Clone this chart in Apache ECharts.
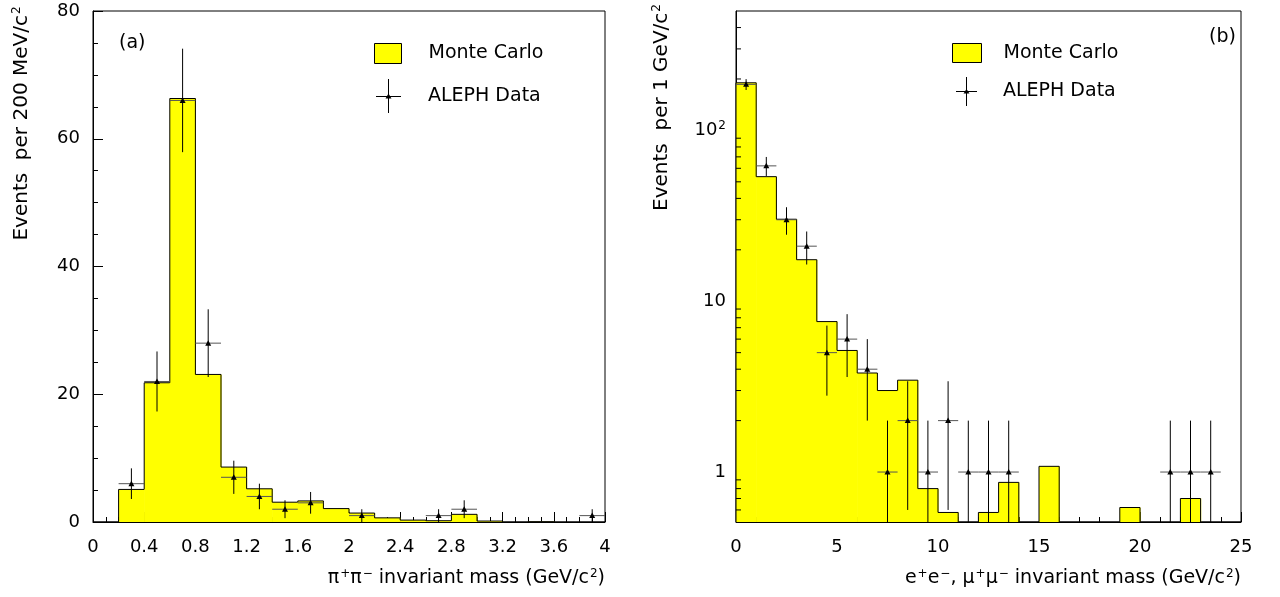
<!DOCTYPE html>
<html>
<head>
<meta charset="utf-8">
<script src="https://cdn.jsdelivr.net/npm/echarts@6/dist/echarts.min.js"></script>
<style>
html, body { margin: 0; background: #fff; }
#main { width: 1280px; height: 597px; }
</style>
</head>
<body>
<div id="main"></div>
<script>
// (a) pi+pi- invariant mass, 200 MeV bins from 0 to 4 GeV
var binA = 0.2;
var mcA = [0, 5.1, 21.8, 66.3, 23.1, 8.6, 5.2, 3.1, 3.3, 2.1, 1.4, 0.65, 0.3, 0.2, 1.2, 0.15, 0, 0.05, 0, 0];
var dataAx = [0.3, 0.5, 0.7, 0.9, 1.1, 1.3, 1.5, 1.7, 2.1, 2.7, 2.9, 3.9];
var dataAy = [6, 22, 66, 28, 7, 4, 2, 3, 1, 1, 2, 1];
var errA = [2.4, 4.7, 8.1, 5.3, 2.6, 2.0, 1.4, 1.7, 1, 1, 1.4, 1];

// (b) e+e-, mu+mu- invariant mass, 1 GeV bins from 0 to 25 GeV
var binB = 1;
var mcB = [190, 53.6, 30.2, 17.5, 7.6, 5.15, 3.8, 3.0, 3.45, 0.8, 0.58, 0, 0.58, 0.87, 0, 1.08, 0, 0, 0, 0.62, 0, 0, 0.7, 0, 0];
var dataBx = [0.5, 1.5, 2.5, 3.5, 4.5, 5.5, 6.5, 7.5, 8.5, 9.5, 10.5, 11.5, 12.5, 13.5, 21.5, 22.5, 23.5];
var dataBy = [186, 62, 30, 21, 5, 6, 4, 1, 2, 1, 2, 1, 1, 1, 1, 1, 1];
var errB = [13.6, 7.9, 5.5, 4.6, 2.2, 2.4, 2, 1, 1.4, 1, 1.4, 1, 1, 1, 1, 1, 1];
var logMinor = [0.6, 0.7, 0.8, 0.9, 2, 3, 4, 5, 6, 7, 8, 9, 20, 30, 40, 50, 60, 70, 80, 90, 200, 300, 400];
var logMin = 0.51, logMax = 500;

var FONT = 'DejaVu Sans';
// superscript token: small and lifted off the baseline
var sup = { s: { fontSize: 12, fontFamily: FONT, verticalAlign: 'bottom', padding: [0, 0, 9, 1] } };

function histData(mc, w) {
    var out = [];
    for (var i = 0; i < mc.length; i++) {
        out.push([i * w, (i + 1) * w, mc[i], i > 0 ? mc[i - 1] : 0]);
    }
    return out;
}

function histItem(lo, last) {
    return function (params, api) {
        var x0 = api.value(0), x1 = api.value(1);
        var y = Math.max(api.value(2), lo), yp = Math.max(api.value(3), lo);
        var a = api.coord([x0, y]), b = api.coord([x1, y]);
        var base = api.coord([x0, lo])[1];
        var prev = api.coord([x0, yp])[1];
        var kids = [];
        if (api.value(2) > lo) {
            // a little wider than the bin so neighbours don't leave a seam
            kids.push({ type: 'rect', shape: { x: a[0], y: a[1], width: b[0] - a[0] + 0.6, height: base - a[1] },
                style: { fill: '#ffff00' } });
        }
        var pts = [[a[0], prev], a, b];
        if (params.dataIndex === last) pts.push([b[0], base]);
        kids.push({ type: 'polyline', shape: { points: pts }, style: { stroke: '#000', fill: null, lineWidth: 1 } });
        return { type: 'group', children: kids };
    };
}

function pointData(xs, ys, es) {
    var out = [];
    for (var i = 0; i < xs.length; i++) out.push([xs[i], ys[i], es[i]]);
    return out;
}

function errItem(half, lo, hi) {
    return function (params, api) {
        var x = api.value(0), y = api.value(1), e = api.value(2);
        var c = api.coord([x, y]);
        var l = api.coord([x - half, y]), r = api.coord([x + half, y]);
        var t = api.coord([x, Math.min(y + e, hi)]), bt = api.coord([x, Math.max(y - e, lo)]);
        return { type: 'group', children: [
            { type: 'line', shape: { x1: l[0], y1: c[1], x2: r[0], y2: c[1] }, style: { stroke: '#555', lineWidth: 1 } },
            { type: 'line', shape: { x1: c[0], y1: t[1], x2: c[0], y2: bt[1] }, style: { stroke: '#000', lineWidth: 1 } },
            { type: 'polygon', shape: { points: [[c[0] - 3, c[1] + 2.5], [c[0] + 3, c[1] + 2.5], [c[0], c[1] - 3]] },
                style: { fill: '#000' } }
        ] };
    };
}

function baseAxis(extra) {
    var ax = {
        type: 'value',
        axisLine: { lineStyle: { color: '#000', width: 1 } },
        axisTick: { inside: true, length: 10, lineStyle: { color: '#000' } },
        minorTick: { show: true, length: 5, lineStyle: { color: '#000' } },
        splitLine: { show: false },
        axisLabel: { color: '#000', fontSize: 18, fontFamily: FONT }
    };
    for (var k in extra) ax[k] = extra[k];
    return ax;
}

// cross with a small triangle, all sub-paths wound the same way
var iconA = 'path://M0,17H25V18H0Z M12,0H13V34H12Z M9.5,19.5L12.5,14.5L15.5,19.5Z';
var iconB = 'path://M0,14H21V15H0Z M10,0H11V29H10Z M7.5,16.5L10.5,12L13.5,16.5Z';
var legendText = { fontSize: 19, fontFamily: FONT, color: '#000' };
var mcIcon = { name: 'Monte Carlo', icon: 'rect', itemStyle: { color: '#ffff00', borderColor: '#000', borderWidth: 1 } };

var myChart = echarts.init(document.getElementById('main'));
var option = {
    backgroundColor: '#fff',
    animation: false,
    title: [
        { text: '(a)', left: 119, top: 34, padding: 0, textStyle: { fontSize: 19, fontWeight: 'normal', fontFamily: FONT, color: '#000' } },
        { text: '(b)', left: 1209, top: 28, padding: 0, textStyle: { fontSize: 19, fontWeight: 'normal', fontFamily: FONT, color: '#000' } }
    ],
    legend: [
        { data: [mcIcon], left: 374, top: 43, padding: 0, itemWidth: 27, itemHeight: 20, selectedMode: false,
          textStyle: Object.assign({ padding: [0, 0, 0, 22] }, legendText) },
        { data: [{ name: 'ALEPH Data', icon: iconA, itemStyle: { color: '#000', borderWidth: 0 } }],
          left: 376, top: 79, padding: 0, itemWidth: 25, itemHeight: 34, selectedMode: false,
          textStyle: Object.assign({ padding: [0, 0, 0, 22] }, legendText) },
        { data: [mcIcon], left: 952, top: 43, padding: 0, itemWidth: 29, itemHeight: 19, selectedMode: false,
          textStyle: Object.assign({ padding: [0, 0, 0, 17] }, legendText) },
        { data: [{ name: 'ALEPH Data', icon: iconB, itemStyle: { color: '#000', borderWidth: 0 } }],
          left: 956, top: 77, padding: 0, itemWidth: 21, itemHeight: 29, selectedMode: false,
          textStyle: Object.assign({ padding: [0, 0, 0, 21] }, legendText) }
    ],
    grid: [
        { left: 93, top: 11, width: 512, height: 511, show: true, borderColor: '#000', borderWidth: 1, backgroundColor: '#fff' },
        { left: 736, top: 11, width: 505, height: 511, show: true, borderColor: '#000', borderWidth: 1, backgroundColor: '#fff' }
    ],
    xAxis: [
        baseAxis({ gridIndex: 0, min: 0, max: 4, interval: 0.4,
            minorTick: { show: true, splitNumber: 4, length: 5, lineStyle: { color: '#000' } },
            axisLabel: { color: '#000', fontSize: 18, fontFamily: FONT, margin: 16 },
            name: 'π{s|+}π{s|−} invariant mass (GeV/c{s|2})', nameLocation: 'end', nameGap: 0,
            nameTextStyle: { color: '#000', fontSize: 19, fontFamily: FONT, align: 'right', verticalAlign: 'top',
                padding: [46, 0, 0, 0], rich: sup } }),
        baseAxis({ gridIndex: 1, min: 0, max: 25, interval: 5,
            minorTick: { show: true, splitNumber: 5, length: 5, lineStyle: { color: '#000' } },
            axisLabel: { color: '#000', fontSize: 18, fontFamily: FONT, margin: 16 },
            name: 'e{s|+}e{s|−}, μ{s|+}μ{s|−} invariant mass (GeV/c{s|2})', nameLocation: 'end', nameGap: 0,
            nameTextStyle: { color: '#000', fontSize: 19, fontFamily: FONT, align: 'right', verticalAlign: 'top',
                padding: [46, 0, 0, 0], rich: sup } })
    ],
    yAxis: [
        baseAxis({ gridIndex: 0, min: 0, max: 80, interval: 20,
            minorTick: { show: true, splitNumber: 4, length: 5, lineStyle: { color: '#000' } },
            axisLabel: { color: '#000', fontSize: 18, fontFamily: FONT, margin: 13 },
            name: 'Events  per 200 MeV/c{s|2}', nameLocation: 'middle', nameRotate: 90, nameGap: 61,
            nameTextStyle: { color: '#000', fontSize: 20, fontFamily: FONT, padding: [0, 0, 0, 286], rich: sup } }),
        baseAxis({ gridIndex: 1, type: 'log', logBase: 10, min: logMin, max: logMax,
            minorTick: { show: false },
            axisLabel: { color: '#000', fontSize: 18, fontFamily: FONT, margin: 10, rich: sup,
                showMinLabel: false, showMaxLabel: false,
                formatter: function (v) {
                    if (Math.abs(v - 1) < 1e-9) return '1';
                    if (Math.abs(v - 10) < 1e-9) return '10';
                    if (Math.abs(v - 100) < 1e-9) return '10{s|2}';
                    return '';
                } },
            name: 'Events  per 1 GeV/c{s|2}', nameLocation: 'middle', nameRotate: 90, nameGap: 64,
            nameTextStyle: { color: '#000', fontSize: 20, fontFamily: FONT, padding: [0, 0, 0, 318], rich: sup } })
    ],
    series: [
        { name: 'Monte Carlo', type: 'custom', xAxisIndex: 0, yAxisIndex: 0, z: 2,
          itemStyle: { color: '#ffff00' },
          encode: { x: [0, 1], y: 2 }, data: histData(mcA, binA), renderItem: histItem(0, mcA.length - 1) },
        { name: 'ALEPH Data', type: 'custom', xAxisIndex: 0, yAxisIndex: 0, z: 3,
          itemStyle: { color: '#000' },
          encode: { x: 0, y: 1 }, data: pointData(dataAx, dataAy, errA), renderItem: errItem(binA / 2, 0, 80) },
        { name: 'Monte Carlo', type: 'custom', xAxisIndex: 1, yAxisIndex: 1, z: 2,
          itemStyle: { color: '#ffff00' },
          encode: { x: [0, 1], y: 2 }, data: histData(mcB, binB), renderItem: histItem(logMin, mcB.length - 1) },
        { name: 'ALEPH Data', type: 'custom', xAxisIndex: 1, yAxisIndex: 1, z: 3,
          itemStyle: { color: '#000' },
          encode: { x: 0, y: 1 }, data: pointData(dataBx, dataBy, errB), renderItem: errItem(binB / 2, logMin, logMax) },
        { name: 'log ticks', type: 'custom', xAxisIndex: 1, yAxisIndex: 1, z: 4, silent: true,
          encode: { x: 0, y: 1 },
          data: logMinor.map(function (v) { return [0, v]; }),
          renderItem: function (params, api) {
              var c = api.coord([0, api.value(1)]);
              return { type: 'line', shape: { x1: c[0], y1: c[1], x2: c[0] + 5, y2: c[1] }, style: { stroke: '#000', lineWidth: 1 } };
          } }
    ]
};
myChart.setOption(option);
</script>
</body>
</html>
